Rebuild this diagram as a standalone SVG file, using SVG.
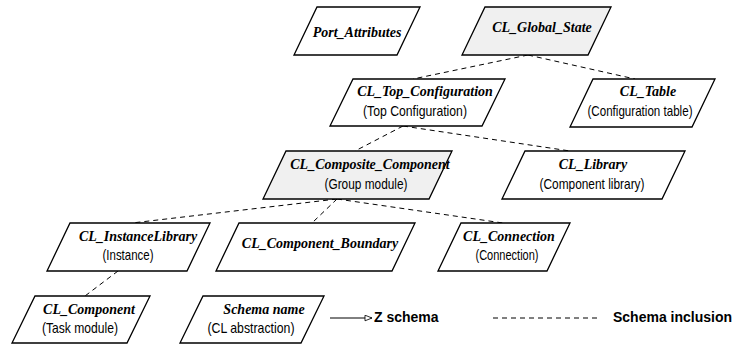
<svg xmlns="http://www.w3.org/2000/svg" width="734" height="345" viewBox="0 0 734 345">
<defs>
<style>
.box{fill:#fff;stroke:#000;stroke-width:1.3;stroke-linejoin:miter}
.grey{fill:#f0f0f0}
.t{font-family:"Liberation Serif","Times New Roman",serif;font-weight:bold;font-style:italic;font-size:14px;text-anchor:middle;fill:#000}
.s{font-family:"Liberation Sans",Arial,sans-serif;font-size:14.5px;text-anchor:middle;fill:#000}
.lg{font-family:"Liberation Sans",Arial,sans-serif;font-weight:bold;font-size:14px;fill:#000}
.dash{fill:none;stroke:#000;stroke-width:1;stroke-dasharray:5,4}
</style>
<marker id="open" viewBox="0 0 10 10" refX="10" refY="5" markerWidth="9" markerHeight="7" markerUnits="userSpaceOnUse" orient="auto">
<path d="M0,1 L10,5 L0,9 Z" fill="#fff" stroke="#000" stroke-width="1.2"/>
</marker>
</defs>
<rect width="734" height="345" fill="#fff"/>

<g id="connectors">
<line class="dash" x1="528" y1="55" x2="413" y2="79"/>
<line class="dash" x1="528" y1="55" x2="635" y2="79"/>
<line class="dash" x1="403" y1="126" x2="355" y2="151"/>
<line class="dash" x1="403" y1="126" x2="570" y2="151"/>
<line class="dash" x1="337" y1="199" x2="132" y2="223"/>
<line class="dash" x1="337" y1="199" x2="312" y2="223"/>
<line class="dash" x1="337" y1="199" x2="503" y2="223"/>
<line class="dash" x1="118" y1="271" x2="85" y2="296"/>
</g>

<g id="Port_Attributes">
<polygon class="box" points="317,7 420,7 397,55 294,55"/>
<text class="t" x="357" y="37">Port_Attributes</text>
</g>

<g id="CL_Global_State">
<polygon class="box grey" points="485,7 611,7 588,55 462,55"/>
<text class="t" x="542" y="32">CL_Global_State</text>
</g>

<g id="CL_Top_Configuration">
<polygon class="box" points="353,79 505,79 482,126 330,126"/>
<text class="t" x="425" y="96">CL_Top_Configuration</text>
<text class="s" x="415" y="116" textLength="104" lengthAdjust="spacingAndGlyphs">(Top Configuration)</text>
</g>

<g id="CL_Table">
<polygon class="box" points="593,79 715,79 692,127 570,127"/>
<text class="t" x="648" y="96">CL_Table</text>
<text class="s" x="640" y="116" textLength="105" lengthAdjust="spacingAndGlyphs">(Configuration table)</text>
</g>

<g id="CL_Composite_Component">
<polygon class="box grey" points="286,151 452,151 429,199 263,199"/>
<text class="t" x="370" y="169">CL_Composite_Component</text>
<text class="s" x="366" y="189" textLength="83" lengthAdjust="spacingAndGlyphs">(Group module)</text>
</g>

<g id="CL_Library">
<polygon class="box" points="525,151 685,151 662,199 502,199"/>
<text class="t" x="593" y="169">CL_Library</text>
<text class="s" x="592" y="189" textLength="105" lengthAdjust="spacingAndGlyphs">(Component library)</text>
</g>

<g id="CL_InstanceLibrary">
<polygon class="box" points="70,223 210,223 187,271 47,271"/>
<text class="t" x="138" y="241">CL_InstanceLibrary</text>
<text class="s" x="128" y="260" textLength="51" lengthAdjust="spacingAndGlyphs">(Instance)</text>
</g>

<g id="CL_Component_Boundary">
<polygon class="box" points="239,223 415,223 392,271 216,271"/>
<text class="t" x="320" y="248">CL_Component_Boundary</text>
</g>

<g id="CL_Connection">
<polygon class="box" points="461,223 570,223 547,271 438,271"/>
<text class="t" x="509" y="241">CL_Connection</text>
<text class="s" x="507" y="260" textLength="63" lengthAdjust="spacingAndGlyphs">(Connection)</text>
</g>

<g id="CL_Component">
<polygon class="box" points="35,296 150,296 127,343 12,343"/>
<text class="t" x="89" y="314">CL_Component</text>
<text class="s" x="80" y="333" textLength="76" lengthAdjust="spacingAndGlyphs">(Task module)</text>
</g>

<g id="Schema_name">
<polygon class="box" points="203,296 324,296 301,343 180,343"/>
<text class="t" x="264" y="314">Schema name</text>
<text class="s" x="251" y="333" textLength="87" lengthAdjust="spacingAndGlyphs">(CL abstraction)</text>
</g>

<g id="legend">
<line x1="330" y1="318" x2="372" y2="318" stroke="#000" stroke-width="1" marker-end="url(#open)"/>
<text class="lg" x="374" y="322">Z schema</text>
<line class="dash" x1="493" y1="318" x2="600" y2="318"/>
<text class="lg" x="613" y="322">Schema inclusion</text>
</g>
</svg>
